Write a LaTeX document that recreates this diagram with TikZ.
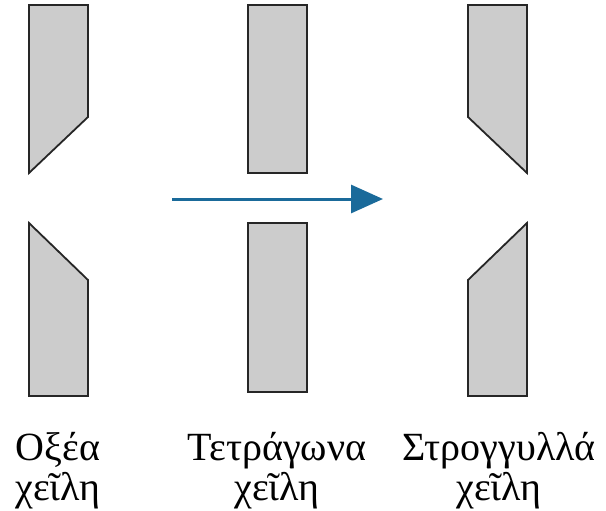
\documentclass[tikz,border=0pt]{standalone}
\usepackage{fontspec}
\setmainfont{Liberation Serif}
\usetikzlibrary{arrows.meta}
\definecolor{lipfill}{HTML}{CCCCCC}
\definecolor{flowblue}{HTML}{1A6A9A}
\begin{document}
\begin{tikzpicture}[x=1pt,y=-1pt,
  lip/.style={draw=black!85,fill=lipfill,line width=1.8pt,line join=miter},
  caption/.style={font=\fontsize{40}{40}\selectfont,align=center,anchor=base,inner sep=0pt},
  flow/.style={draw=flowblue,line width=3pt,-{Triangle[length=32pt,width=28pt]}}]
  \useasboundingbox (0,0) rectangle (606,511);
  % sharp-edged lips
  \draw[lip] (29,5) -- (88,5) -- (88,117) -- (29,173) -- cycle;
  \draw[lip] (29,223) -- (88,280) -- (88,396) -- (29,396) -- cycle;
  % square-edged lips
  \draw[lip] (248,5) rectangle (307,173);
  \draw[lip] (248,223) rectangle (307,392);
  % rounded-edged lips
  \draw[lip] (468,5) -- (527,5) -- (527,173) -- (468,117) -- cycle;
  \draw[lip] (527,223) -- (527,396) -- (468,396) -- (468,280) -- cycle;
  % flow direction
  \coordinate (flowstart) at (172,199);
  \coordinate (flowend) at (383,199);
  \draw[flow] (flowstart) -- (flowend);
  % captions (anchored at the baseline of the second line)
  \node[caption] (capA) at (58,500) {Οξέα\\χεῖλη};
  \node[caption] (capB) at (277,500) {Τετράγωνα\\χεῖλη};
  \node[caption] (capC) at (499,500) {Στρογγυλλά\\χεῖλη};
\end{tikzpicture}
\end{document}
